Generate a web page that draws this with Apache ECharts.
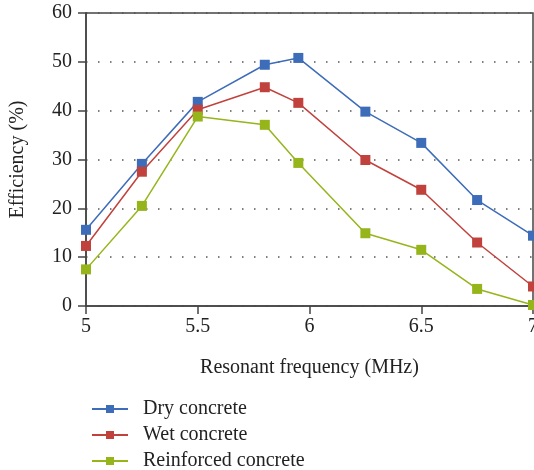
<!DOCTYPE html>
<html>
<head>
<meta charset="utf-8">
<script src="https://cdn.jsdelivr.net/npm/echarts@6/dist/echarts.min.js"></script>
<style>
  html, body { margin: 0; padding: 0; background: #fff; }
  #chart { width: 534px; height: 470px; }
</style>
</head>
<body>
<div id="chart"></div>
<script>
// resonant frequency (MHz)
var freqs = [5, 5.25, 5.5, 5.8, 5.95, 6.25, 6.5, 6.75, 7];
var dryConcrete = [15.6, 29.1, 41.8, 49.4, 50.8, 39.8, 33.4, 21.7, 14.4];
var wetConcrete = [12.3, 27.5, 40.2, 44.8, 41.6, 29.9, 23.8, 13.0, 4.0];
var reinforcedConcrete = [7.5, 20.5, 38.8, 37.1, 29.3, 14.9, 11.5, 3.5, 0.2];
var seriesNames = ['Dry concrete', 'Wet concrete', 'Reinforced concrete'];
var seriesColors = ['#3d6cb9', '#c1413c', '#95b51b'];

function pairs(vals) {
  return freqs.map(function (f, i) { return [f, vals[i]]; });
}

var chart = echarts.init(document.getElementById('chart'));
var font = '"Liberation Serif", "DejaVu Serif", serif';

var allVals = [dryConcrete, wetConcrete, reinforcedConcrete];
var series = allVals.map(function (vals, i) {
  return {
    name: seriesNames[i],
    type: 'line',
    data: pairs(vals),
    symbol: 'rect',
    symbolSize: 10,
    showSymbol: true,
    clip: false,
    itemStyle: { color: seriesColors[i] },
    lineStyle: { color: seriesColors[i], width: 1.5 }
  };
});

// one legend per row, stacked like the original
var legends = seriesNames.map(function (name, i) {
  return {
    orient: 'vertical',
    left: 86,
    top: 393 + i * 26,
    itemWidth: 36,
    itemHeight: 10,
    data: [name],
    textStyle: { fontFamily: font, fontSize: 20, lineHeight: 22, color: '#222', padding: [0, 0, 0, 10] }
  };
});

chart.setOption({
  animation: false,
  textStyle: { fontFamily: font },
  grid: {
    left: 86, right: 1, top: 13, bottom: 164,
    outerBoundsMode: 'none',
    containLabel: false,
    show: true, borderColor: '#444', borderWidth: 1.5
  },
  legend: legends,
  xAxis: {
    type: 'value',
    min: 5, max: 7, interval: 0.5,
    name: 'Resonant frequency (MHz)',
    nameLocation: 'middle',
    nameGap: 52,
    nameTextStyle: { fontFamily: font, fontSize: 20, color: '#222' },
    axisLine: { lineStyle: { color: '#444', width: 1.5 } },
    axisTick: { show: true, length: 8, lineStyle: { color: '#444', width: 1.5 } },
    axisLabel: { fontFamily: font, fontSize: 20, color: '#222', margin: 11 },
    splitLine: { show: false }
  },
  yAxis: {
    type: 'value',
    min: 0, max: 60, interval: 10,
    name: 'Efficiency (%)',
    nameLocation: 'middle',
    nameGap: 58,
    nameTextStyle: { fontFamily: font, fontSize: 20, color: '#222' },
    axisLine: { show: true, lineStyle: { color: '#444', width: 1.5 } },
    axisTick: { show: true, length: 8, lineStyle: { color: '#444', width: 1.5 } },
    axisLabel: { fontFamily: font, fontSize: 20, color: '#222', margin: 14 },
    splitLine: { show: true, lineStyle: { color: '#555', width: 1.5, type: [1.5, 10.5] } }
  },
  series: series
});
</script>
</body>
</html>
